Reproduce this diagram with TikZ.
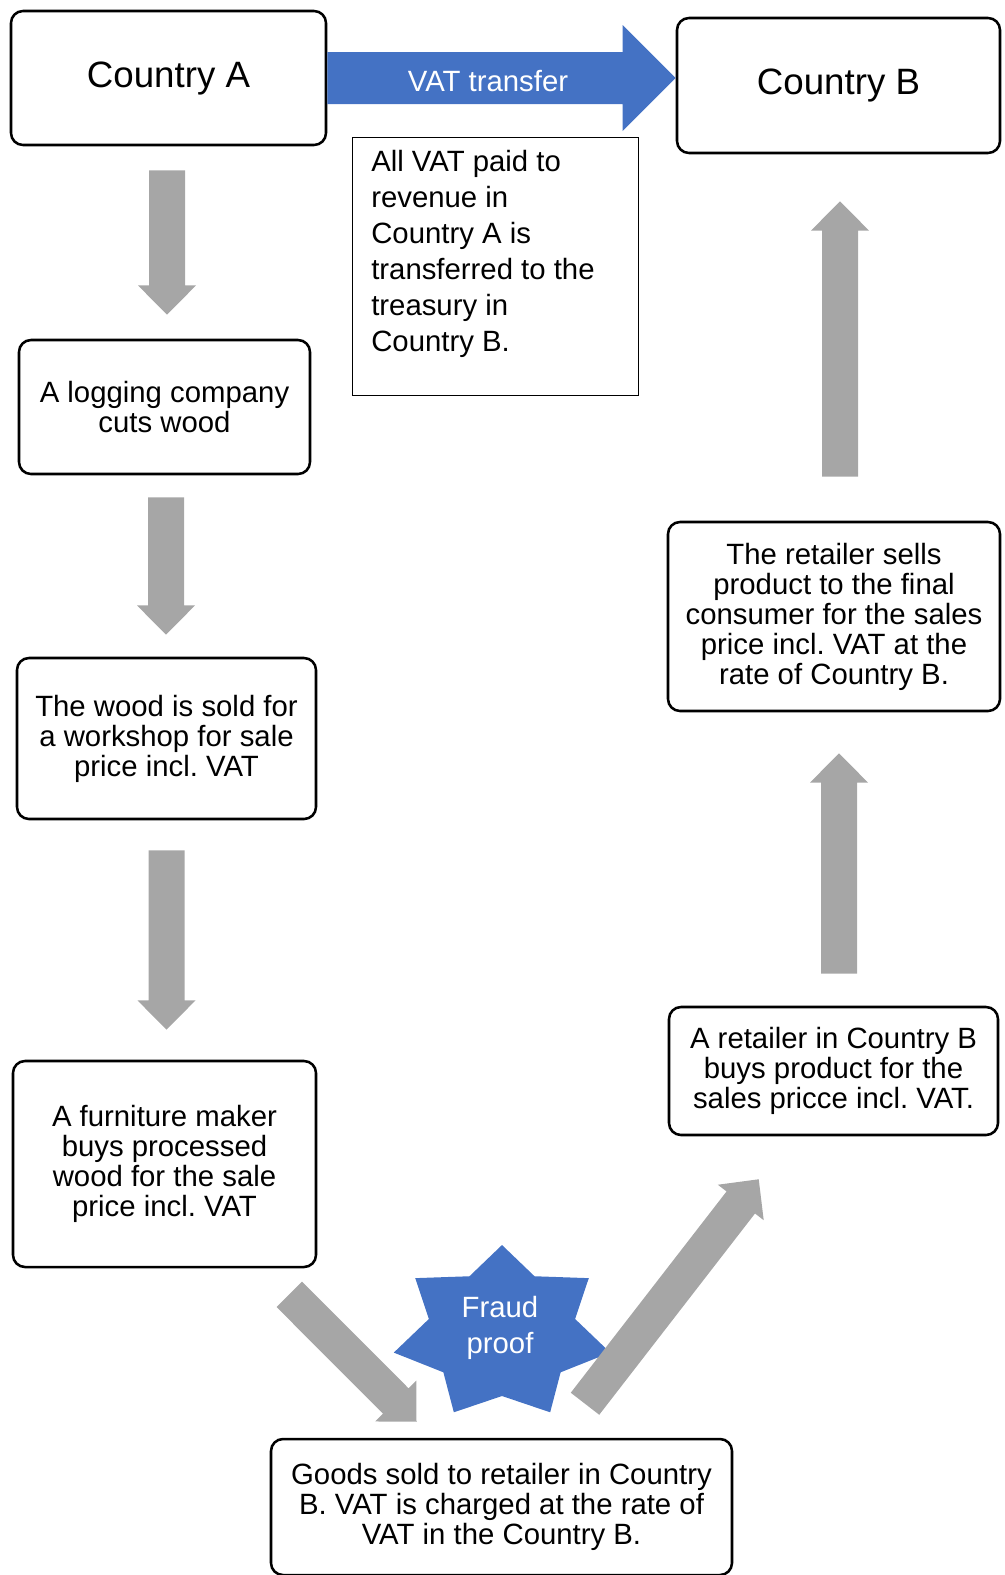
\documentclass[tikz,border=0pt]{standalone}
\usepackage{fontspec}
\setmainfont{Liberation Sans}
\usepackage{tikz}
\usetikzlibrary{calc}
\frenchspacing

\definecolor{vatblue}{HTML}{4472C4}
\definecolor{arrowgray}{HTML}{A6A6A6}

% block arrow: colour, half body, half head, head length, tail, tip
\newcommand{\blockarrow}[6]{%
  \coordinate (tl) at (#5);
  \coordinate (tp) at (#6);
  \coordinate (hb) at ($(tp)!#4!(tl)$);
  \fill[#1] ($(tl)!#2!90:(tp)$) -- ($(hb)!#2!90:(tp)$) -- ($(hb)!#3!90:(tp)$) -- (tp)
    -- ($(hb)!#3!-90:(tp)$) -- ($(hb)!#2!-90:(tp)$) -- ($(tl)!#2!-90:(tp)$) -- cycle;
}

\tikzset{
  stepbox/.style={draw, line width=1.9pt, rounded corners=9pt, align=center, inner sep=0pt,
    font=\fontsize{22}{22.5}\selectfont},
  countrybox/.style={stepbox, font=\fontsize{27.5}{33}\selectfont},
  notebox/.style={draw, line width=0.9pt, inner xsep=14pt, inner ysep=9.75pt,
    font=\fontsize{22}{27}\selectfont},
  arrowtext/.style={text=white, align=center, font=\fontsize{22}{27}\selectfont}
}

\begin{document}
\begin{tikzpicture}[x=0.75pt,y=0.75pt,yscale=-1]
    \useasboundingbox (0,0) rectangle (1004,1575);

    \coordinate (starc) at (502,1333);
    \fill[vatblue, shift={(starc)}] (-90:111 and 88)
        \foreach \k in {0,...,6}{ -- ({-90+(\k+0.5)*360/7}:75 and 63) -- ({-90+(\k+1)*360/7}:111 and 88) } -- cycle;
    \node[arrowtext] (fraud) at ($(starc)+(-2,-5)$) {Fraud\\proof};

    \node[countrybox, minimum width=236.25pt, minimum height=100.5pt] (ca) at (168.5,78) {Country A};
    \node[countrybox, minimum width=242.25pt, minimum height=101.25pt] (cb) at (838.5,85.5) {Country B};
    \node[notebox, anchor=north west] (note) at (352,137) {\begin{minipage}[t][174pt][t]{186.5pt}All VAT paid to\\revenue in\\Country A is\\transferred to the\\treasury in\\Country B.\end{minipage}};
    \node[stepbox, minimum width=218.25pt, minimum height=100.5pt] (log) at (164.5,407) {A logging company\\cuts wood};
    \node[stepbox, minimum width=224.25pt, minimum height=120.75pt] (wood) at (166.5,738.5) {The wood is sold for\\a workshop for sale\\price incl. VAT};
    \node[stepbox, minimum width=227.25pt, minimum height=154.5pt] (furn) at (164.5,1164) {A furniture maker\\buys processed\\wood for the sale\\price incl. VAT};
    \node[stepbox, minimum width=345.75pt, minimum height=102pt] (goods) at (501.5,1507) {Goods sold to retailer in Country\\B. VAT is charged at the rate of\\VAT in the Country B.};
    \node[stepbox, minimum width=246.75pt, minimum height=96pt] (retb) at (833.5,1071) {A retailer in Country B\\buys product for the\\sales pricce incl. VAT.};
    \node[stepbox, minimum width=249pt, minimum height=141.75pt] (rets) at (834,616.5) {The retailer sells\\product to the final\\consumer for the sales\\price incl. VAT at the\\rate of Country B.};

    \blockarrow{vatblue}{19.5pt}{39.75pt}{39.75pt}{ca.east}{cb.west |- ca.east}
    \node[arrowtext] (vat) at (488,81) {VAT transfer};

    \blockarrow{arrowgray}{13.5pt}{21.75pt}{22pt}{$(ca.south)+(-1.5,24)$}{$(tl |- log.north)+(0,-24)$}
    \blockarrow{arrowgray}{13.5pt}{21.75pt}{22pt}{$(log.south)+(1.5,22)$}{$(tl |- wood.north)+(0,-22)$}
    \blockarrow{arrowgray}{13.5pt}{21.75pt}{22pt}{$(wood.south)+(0,30)$}{$(tl |- furn.north)+(0,-30)$}
    \blockarrow{arrowgray}{13.5pt}{21.75pt}{22pt}{$(furn.south east)+(-28,26)$}{$(goods.north)+(-85,-16)$}
    \blockarrow{arrowgray}{13.5pt}{21.75pt}{22pt}{$(goods.north)+(83.5,-34)$}{$(retb.south west)+(91,43)$}
    \blockarrow{arrowgray}{13.5pt}{21.75pt}{22pt}{$(retb.north)+(5.5,-32)$}{$(tl |- rets.south)+(0,41)$}
    \blockarrow{arrowgray}{13.5pt}{21.75pt}{22pt}{$(rets.north)+(6,-44)$}{$(tl |- cb.south)+(0,47)$}
\end{tikzpicture}
\end{document}
